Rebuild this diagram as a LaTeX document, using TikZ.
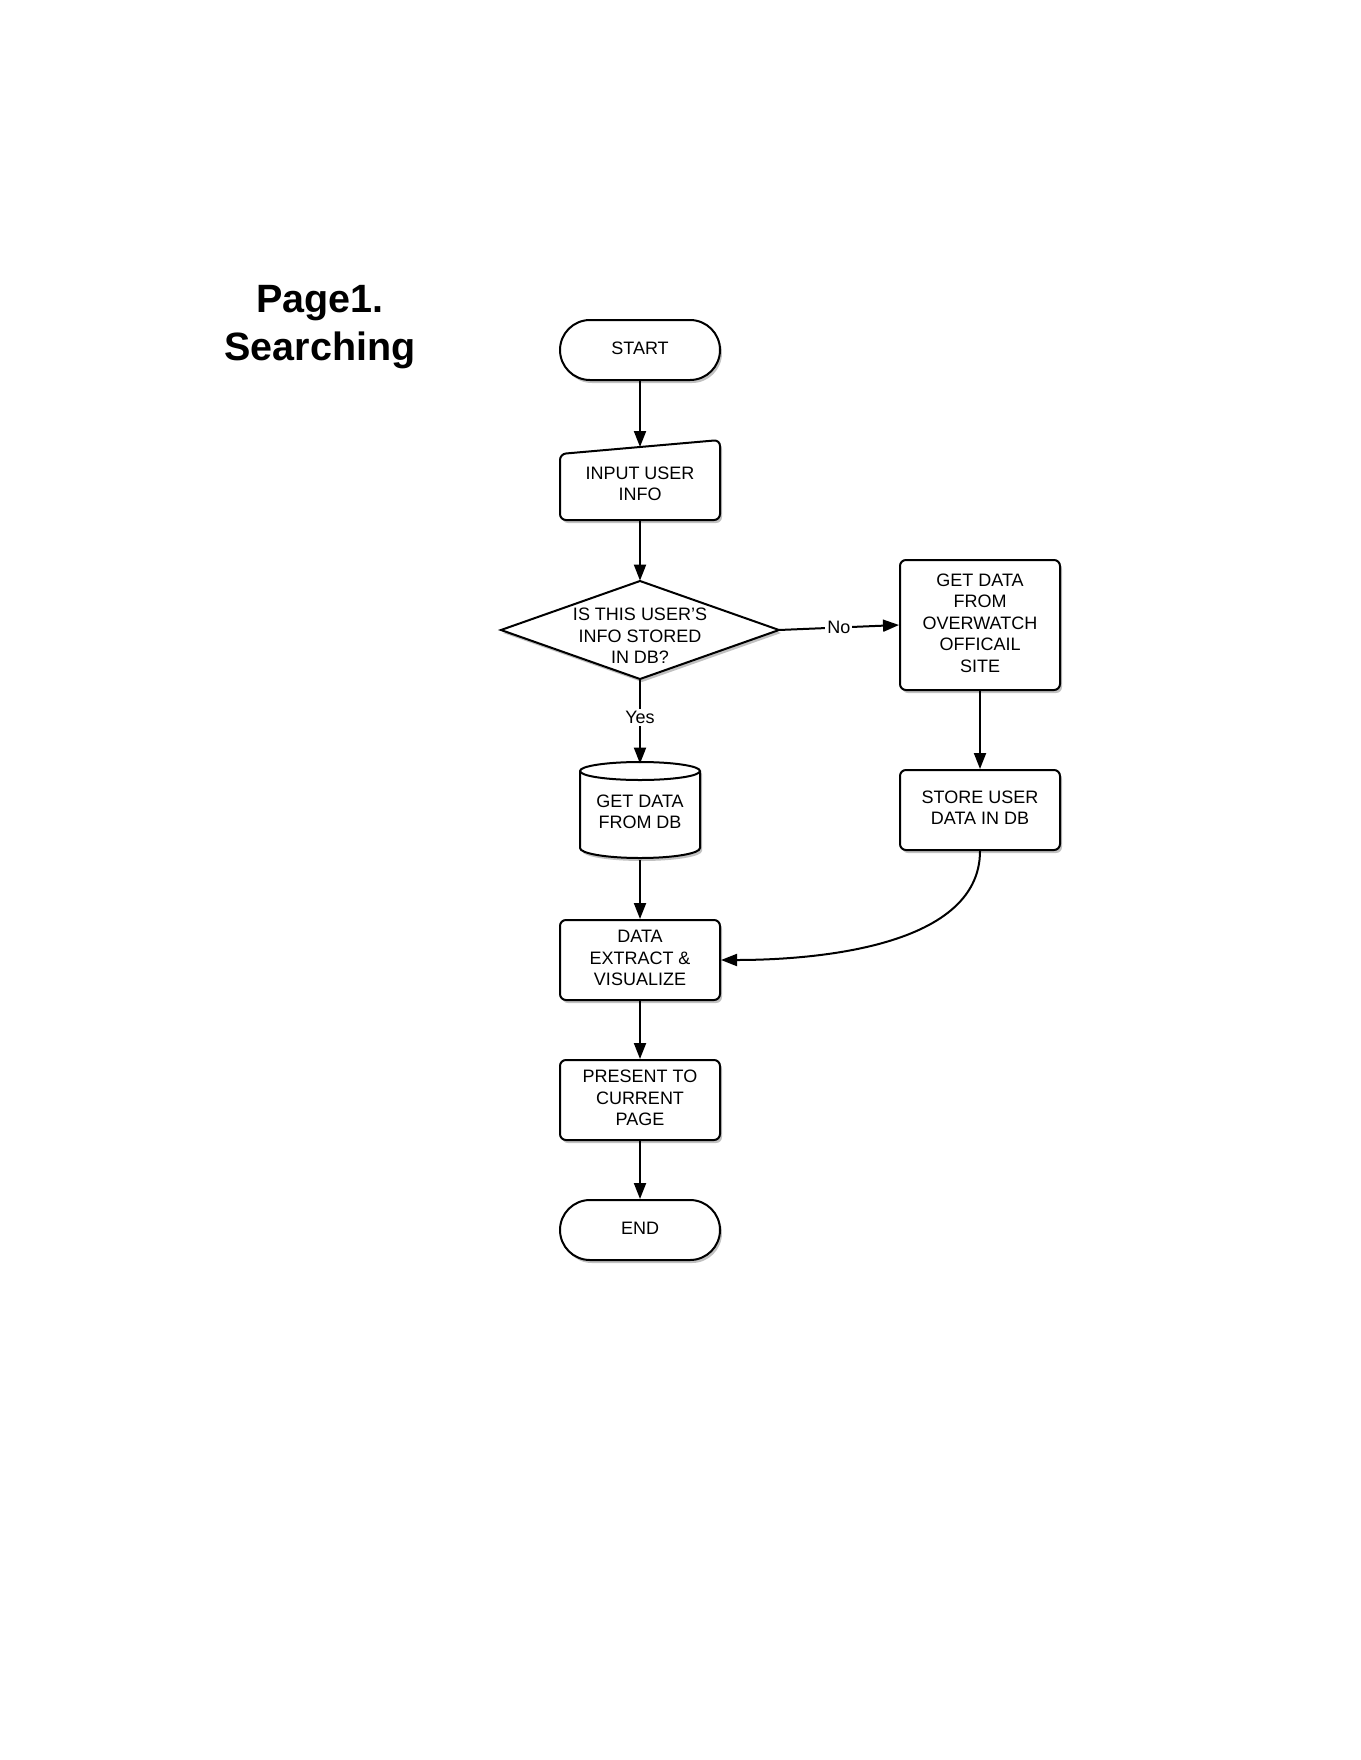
\documentclass[tikz,border=0pt]{standalone}
\usepackage{fontspec}
\setmainfont{Liberation Sans}
\usetikzlibrary{arrows.meta,shadows}
\begin{document}
\begin{tikzpicture}[x=0.5pt,y=-0.5pt,
  shad/.style={drop shadow={shadow xshift=1pt,shadow yshift=-1.5pt,opacity=0.35,fill=black!70}},
  txt/.style={font=\fontsize{9}{10.7}\selectfont,align=center,inner sep=0pt},
  box/.style={txt,text depth=2pt,draw,line width=1pt,rounded corners=3pt,minimum width=80pt,fill=white,shad},
  term/.style={txt,text depth=2pt,draw,line width=1pt,rounded corners=15pt,minimum width=80pt,minimum height=30pt,fill=white,shad},
  arr/.style={line width=1pt,-{Triangle[length=8pt,width=6pt]}},
  lbl/.style={font=\fontsize{9}{10.7}\selectfont,fill=white,inner sep=1pt}]
\useasboundingbox (0,0) rectangle (1360,1760);
% title
\node[font=\fontsize{19.75}{24}\selectfont\bfseries,align=center] (title) at (320,327) {Page1.\\Searching};
% start
\node[term] (start) at (640,350) {START};
% input (manual input shape)
\path[draw,line width=1pt,rounded corners=3pt,fill=white,shad] (560,454) -- (720,440) -- (720,520) -- (560,520) -- cycle;
\node[txt,minimum width=80pt,minimum height=36pt] (input) at (640,484) {INPUT USER\\INFO};
\coordinate (inTop) at (640,447);
% decision
\path[draw,line width=1pt,fill=white,shad] (640,581) -- (779,630) -- (640,679) -- (501,630) -- cycle;
\node[txt,minimum width=138.5pt,minimum height=49pt] (dec) at (640,630) {};
\node[txt] (dectext) at (640,636) {IS THIS USER'S\\INFO STORED\\IN DB?};
% overwatch
\node[box,minimum height=65pt] (ow) at (980,625) {GET DATA\\FROM\\OVERWATCH\\OFFICAIL\\SITE};
% db cylinder
\path[draw,line width=1pt,fill=white,shad] (580,771) -- (580,848) arc[start angle=180,end angle=360,x radius=60,y radius=-10] -- (700,771) arc[start angle=0,end angle=180,x radius=60,y radius=-9] -- cycle;
\draw[line width=1pt] (580,771) arc[start angle=180,end angle=360,x radius=60,y radius=-9];
\node[txt,minimum width=60pt,minimum height=48pt] (db) at (640,812) {GET DATA\\FROM DB};
% store
\node[box,minimum height=40pt] (store) at (980,810) {STORE USER\\DATA IN DB};
% extract
\node[box,minimum height=40pt] (ext) at (640,960) {DATA\\EXTRACT \&\\VISUALIZE};
% present
\node[box,minimum height=40pt] (pres) at (640,1100) {PRESENT TO\\CURRENT\\PAGE};
% end
\node[term] (end) at (640,1230) {END};
% connectors
\draw[arr] (start.south) -- (inTop);
\draw[arr] (input.south) -- (dec.north);
\draw[arr] (dec.east) -- node[lbl,pos=0.5] {No} (ow.west);
\draw[arr] (dec.south) -- node[lbl,pos=0.45] {Yes} (db.north);
\draw[arr] (ow.south) -- (store.north);
\draw[arr] (db.south) -- (ext.north);
\draw[arr] (store.south) .. controls ([yshift=-50pt]store.south) and ([xshift=40pt]ext.east) .. (ext.east);
\draw[arr] (ext.south) -- (pres.north);
\draw[arr] (pres.south) -- (end.north);
\end{tikzpicture}
\end{document}
